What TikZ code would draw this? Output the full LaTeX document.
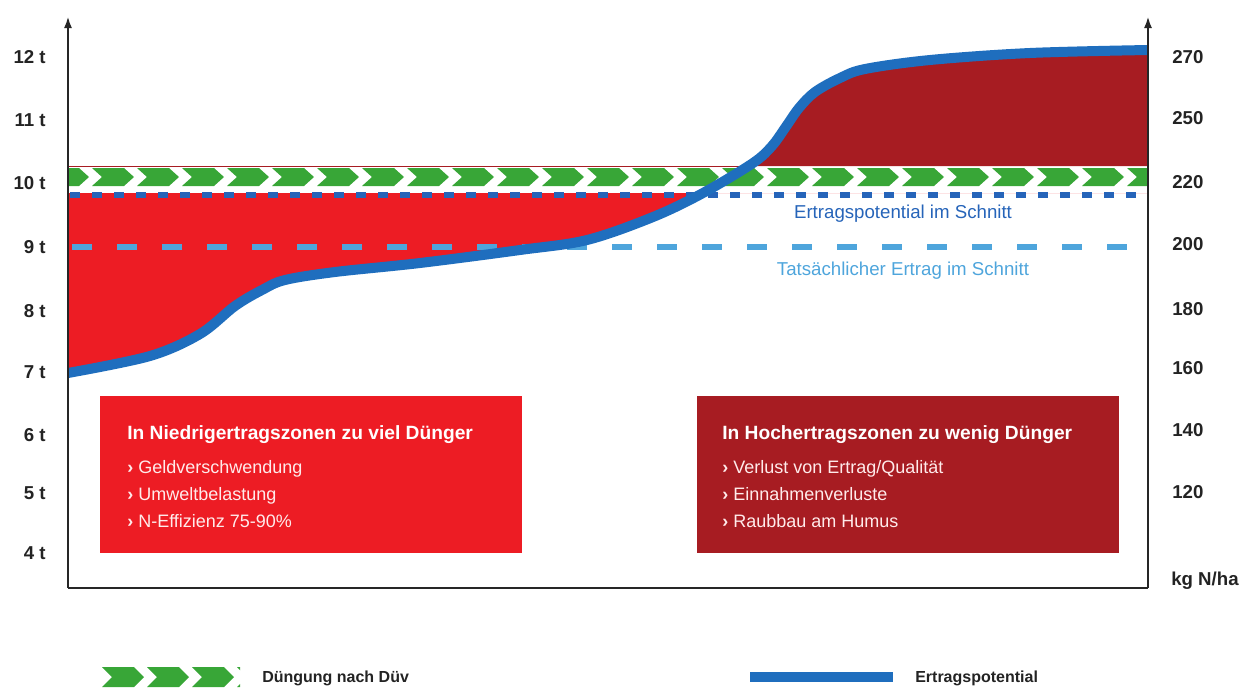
\documentclass[tikz,border=0pt]{standalone}
\usepackage{fontspec}
\setmainfont{Liberation Sans}
\usetikzlibrary{arrows.meta}
\definecolor{brightred}{RGB}{237,28,36}
\definecolor{darkred}{RGB}{167,28,34}
\definecolor{chevgreen}{RGB}{56,166,55}
\definecolor{curveblue}{RGB}{31,110,190}
\definecolor{dotblue}{RGB}{38,100,185}
\definecolor{lightblue}{RGB}{78,165,220}
\definecolor{labgray}{RGB}{35,35,35}
\tikzset{
  axisline/.style={line width=2.2pt,black!85},
  axislab/.style={font=\fontsize{14}{16}\selectfont\bfseries,text=labgray,inner sep=0pt},
  boxtitle/.style={font=\fontsize{14.4}{17}\selectfont\bfseries,text=white,anchor=base west,inner sep=0pt},
  boxitem/.style={font=\fontsize{13.5}{16}\selectfont,text=white!92!red,anchor=base west,inner sep=0pt},
  leglab/.style={font=\fontsize{12}{14}\selectfont\bfseries,text=labgray,anchor=base west,inner sep=0pt},
  curveline/.style={line width=7.5pt,curveblue,line cap=round},
}
\newcommand\chevron[3]{\fill[chevgreen] (#1,#2) -- (#1+32,#2) -- (#1+42,{(#2+#3)/2}) -- (#1+32,#3) -- (#1,#3) -- (#1+10,{(#2+#3)/2}) -- cycle;}
\def\curvepts{(68,373) (150,356) (200,334) (235,306) (262,290) (285,280) (335,272) (420,263) (520,250) (587,240) (653,217) (703,193) (753,163) (772,146) (785,128) (799,108) (815,92) (840,78) (865,69) (930,60) (1030,53) (1148,50)}
\begin{document}
\begin{tikzpicture}[x=0.75pt,y=-0.75pt]
\useasboundingbox (0,0) rectangle (1252,693);
% red area (too much fertilizer)
\begin{scope}
  \clip (68,193) rectangle (1148,600);
  \fill[brightred] (68,193) -- plot[smooth,tension=0.55] coordinates {\curvepts} -- (1148,193) -- cycle;
\end{scope}
% dark red area (too little fertilizer)
\begin{scope}
  \clip (68,0) rectangle (1148,166);
  \fill[darkred] (68,166) -- plot[smooth,tension=0.55] coordinates {\curvepts} -- (1148,166) -- cycle;
\end{scope}
% green chevron band
\begin{scope}
  \clip (68,160) rectangle (1148,190);
  \foreach \i in {0,...,25} {\chevron{47+45*\i}{168}{186}}
\end{scope}
% average lines
\draw[dotblue,line width=4.5pt,dash pattern=on 7.5pt off 9pt] (70,194.5) -- (1146,194.5);
\draw[lightblue,line width=4.5pt,dash pattern=on 15pt off 18.75pt] (72,247) -- (1146,247);
\node[font=\fontsize{14}{16}\selectfont,text=dotblue,inner sep=0pt] (lpot) at (903,214) {Ertragspotential im Schnitt};
\node[font=\fontsize{14}{16}\selectfont,text=lightblue,inner sep=0pt] (lact) at (903,271) {Tatsächlicher Ertrag im Schnitt};
% yield potential curve
\begin{scope}
  \clip (68,0) rectangle (1148,600);
  \draw[curveline] plot[smooth,tension=0.55] coordinates {\curvepts};
\end{scope}
% axes
\coordinate (o) at (68,588);
\coordinate (ytop) at (68,16);
\coordinate (r) at (1148,588);
\coordinate (rtop) at (1148,16);
\draw[axisline,-{Latex[length=9pt,width=6pt]}] (o) -- (ytop);
\draw[axisline,-{Latex[length=9pt,width=6pt]}] (r) -- (rtop);
\draw[axisline] (o) -- (r);
% left labels
\foreach \lab/\yy [count=\k] in {12 t/57,11 t/120,10 t/183,9 t/247,8 t/311,7 t/372,6 t/435,5 t/493,4 t/553}
  \node[axislab,anchor=east] (l\k) at (46,\yy) {\lab};
% right labels
\foreach \lab/\yy [count=\k] in {270/57,250/118,220/182,200/244,180/309,160/368,140/430,120/492}
  \node[axislab,anchor=west] (r\k) at (1172,\yy) {\lab};
\node[axislab,anchor=west,font=\fontsize{14}{16}\selectfont\bfseries] (unit) at (1171,581) {kg N/ha};
% boxes
\fill[brightred] (100,396) rectangle (522,553);
\fill[darkred] (697,396) rectangle (1119,553);
\node[boxtitle] (t1) at (127,439) {In Niedrigertragszonen zu viel Dünger};
\node[boxitem] (a1) at (127,473) {\textbf{›} Geldverschwendung};
\node[boxitem] (a2) at (127,500) {\textbf{›} Umweltbelastung};
\node[boxitem] (a3) at (127,527) {\textbf{›} N-Effizienz 75-90\%};
\node[boxtitle] (t2) at (722,439) {In Hochertragszonen zu wenig Dünger};
\node[boxitem] (b1) at (722,473) {\textbf{›} Verlust von Ertrag/Qualität};
\node[boxitem] (b2) at (722,500) {\textbf{›} Einnahmenverluste};
\node[boxitem] (b3) at (722,527) {\textbf{›} Raubbau am Humus};
% legend
\begin{scope}
  \clip (100,660) rectangle (240,692);
  \foreach \i in {0,...,3} {\chevron{102+45*\i}{667}{687}}
\end{scope}
\node[leglab] (lg1) at (262,682) {Düngung nach Düv};
\coordinate (lb1) at (750,677);
\coordinate (lb2) at (893,677);
\draw[curveblue,line width=7.5pt] (lb1) -- (lb2);
\node[leglab] (lg2) at (915,682) {Ertragspotential};
\end{tikzpicture}
\end{document}
